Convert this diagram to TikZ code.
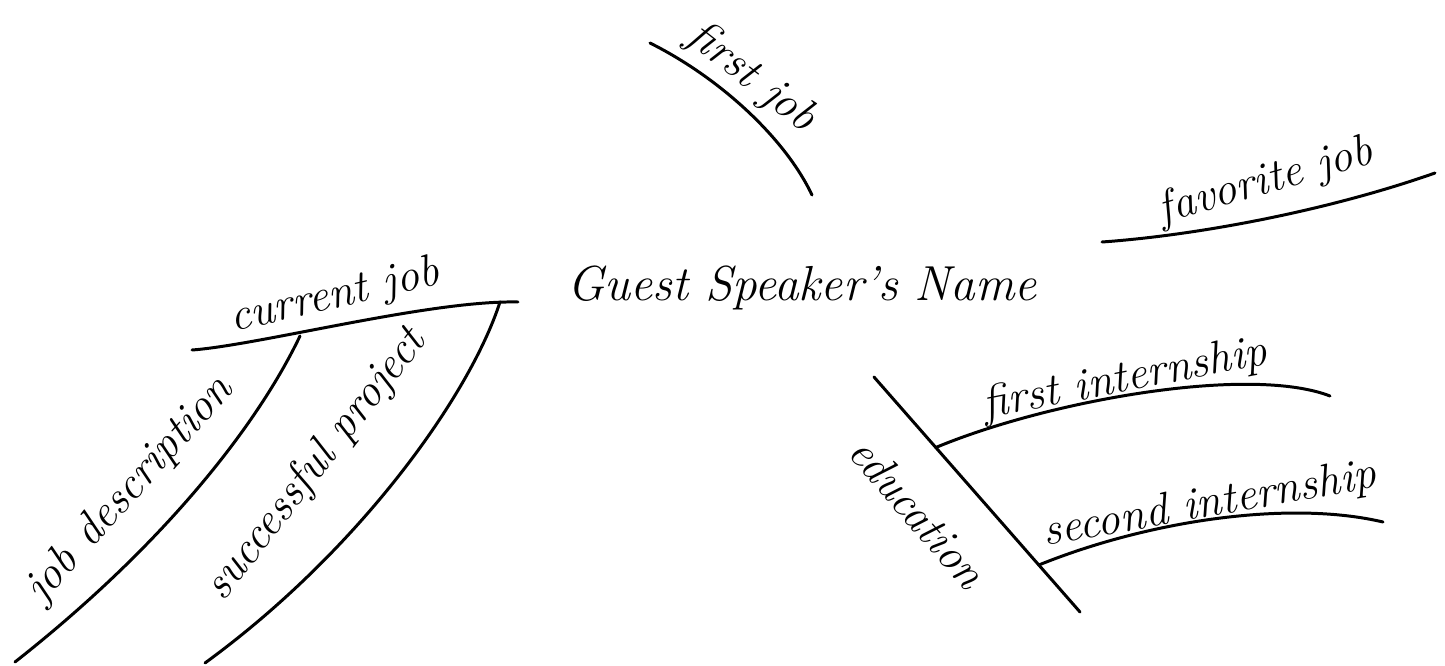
\documentclass[tikz,border=0pt]{standalone}
\usetikzlibrary{calc}
\begin{document}
\begin{tikzpicture}[x=0.02cm,y=-0.02cm,
  branch/.style={line width=1.7pt,line cap=round},
  lbl/.style={font=\fontsize{26}{28}\selectfont\itshape,inner sep=0pt},
  title/.style={font=\fontsize{28}{30}\selectfont\itshape,inner sep=0pt}]
\useasboundingbox (0,0) rectangle (1445,666);
% center
\node[title] (name) at (802,288) {Guest Speaker's Name};
% first job
\coordinate (fj1) at (650,43);
\coordinate (fj2) at (812,195);
\draw[branch] (fj1) .. controls (720,78) and (785,138) .. (fj2);
\node[lbl,rotate=-38] (fjt) at (752,78) {first job};
% favorite job
\coordinate (fv1) at (1102,242);
\coordinate (fv2) at (1435,173);
\draw[branch] (fv1) .. controls (1200,235) and (1330,210) .. (fv2);
\node[lbl,rotate=16] (fvt) at (1266,182) {favorite job};
% current job
\coordinate (cj1) at (192,350);
\coordinate (cj2) at (518,302);
\coordinate (jd1) at (300,336);
\coordinate (sp1) at (500,302);
\draw[branch] (cj1) .. controls (260,345) and (430,300) .. (cj2);
\node[lbl,rotate=13] (cjt) at (335,297) {current job};
% job description
\coordinate (jd2) at (15,662);
\draw[branch] (jd1) .. controls (260,420) and (170,540) .. (jd2);
\node[lbl,rotate=48] (jdt) at (130,490) {job description};
% successful project
\coordinate (sp2) at (205,663);
\draw[branch] (sp1) .. controls (470,395) and (360,550) .. (sp2);
\node[lbl,rotate=52] (spt) at (316,465) {successful project};
% education
\coordinate (ed1) at (874,377);
\coordinate (ed2) at (1080,612);
\draw[branch] (ed1) -- (ed2);
\node[lbl,rotate=-49] (edt) at (918,512) {education};
% first internship
\coordinate (fi1) at ($(ed1)!0.3!(ed2)$);
\coordinate (fi2) at (1330,396);
\draw[branch] (fi1) .. controls (1050,400) and (1250,365) .. (fi2);
\node[lbl,rotate=11] (fit) at (1125,380) {first internship};
% second internship
\coordinate (si1) at ($(ed1)!0.8!(ed2)$);
\coordinate (si2) at (1383,522);
\draw[branch] (si1) .. controls (1150,520) and (1290,500) .. (si2);
\node[lbl,rotate=10] (sit) at (1210,505) {second internship};
\end{tikzpicture}
\end{document}
